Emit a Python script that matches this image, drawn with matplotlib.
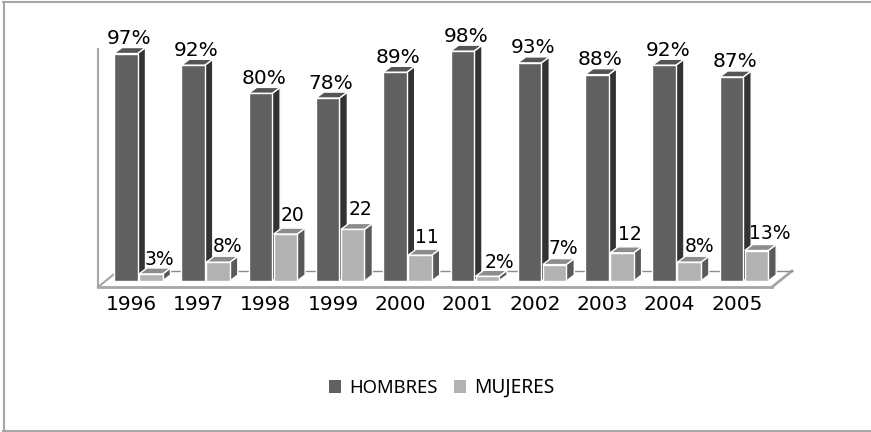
import matplotlib
matplotlib.use("Agg")
import matplotlib.pyplot as plt
from matplotlib.lines import Line2D
from matplotlib.patches import Polygon, Rectangle

years = ["1996", "1997", "1998", "1999", "2000", "2001", "2002", "2003", "2004", "2005"]
hombres = [97, 92, 80, 78, 89, 98, 93, 88, 92, 87]
mujeres = [3, 8, 20, 22, 11, 2, 7, 12, 8, 13]
hombres_labels = ["97%", "92%", "80%", "78%", "89%", "98%", "93%", "88%", "92%", "87%"]
mujeres_labels = ["3%", "8%", "20", "22", "11", "2%", "7%", "12", "8%", "13%"]

W, H = 871, 432
px_x = 67.3  # pixels per category
px_y = 2.345  # pixels per percent
x0, y0 = 114, 281  # pixel of first bar / zero level

# hand nudges for the small labels, in pixels
nudge_x = [0, 0.5, -1.4, -0.7, -2, 2.7, 0, -0.9, 1.8, 4]
nudge_y = [-2, 0, 3, 3.5, 2, -2, 0, 2.5, 0, 1]

fig = plt.figure(figsize=(W / 100, H / 100), dpi=100)
ax = fig.add_axes([0, 0, 1, 1])
ax.set_xlim(-x0 / px_x, (W - x0) / px_x)
ax.set_ylim(-(H - y0) / px_y, y0 / px_y)
ax.axis("off")

bar_w = 23.5 / px_x
gap = 25 / px_x
dx = 8 / px_x
dy = 6 / px_y


def bar3d(x, v, front, top, side):
    # front, side and top face of one bar
    ax.add_patch(Polygon([(x + bar_w, 0), (x + bar_w + dx, dy), (x + bar_w + dx, v + dy), (x + bar_w, v)],
                         fc=side, ec="white", lw=1, zorder=3 + x))
    ax.add_patch(Polygon([(x, v), (x + bar_w, v), (x + bar_w + dx, v + dy), (x + dx, v + dy)],
                         fc=top, ec="white", lw=1, zorder=3 + x))
    ax.add_patch(Rectangle((x, 0), bar_w, v, fc=front, ec="white", lw=1, zorder=3 + x))


# floor and wall
wall = "#a6a6a6"
fl = -6 / px_y
bk = 10 / px_y
ax.plot([-16 / px_x, -16 / px_x], [fl, 99], color=wall, lw=1.5, zorder=1)
ax.plot([-16 / px_x, 658 / px_x], [fl, fl], color=wall, lw=2, zorder=1)
ax.plot([-16 / px_x, 4 / px_x], [fl, bk], color=wall, lw=1.5, zorder=1)
ax.plot([658 / px_x, 678 / px_x], [fl, bk], color=wall, lw=2, zorder=1)
ax.plot([4 / px_x, 678 / px_x], [bk, bk], color="#8c8c8c", lw=1, zorder=1)

for i in range(len(years)):
    bar3d(i, hombres[i], "#606060", "#555555", "#333333")
    bar3d(i + gap, mujeres[i], "#b2b2b2", "#8c8c8c", "#595959")
    ax.text(i + (bar_w + dx) / 2 - 0.5 / px_x, hombres[i] + dy - 0.5 / px_y, hombres_labels[i],
            ha="center", va="bottom", fontsize=14.5, color="black", zorder=30)
    ax.text(i + gap + (bar_w + dx) / 2 + (5 + nudge_x[i]) / px_x, mujeres[i] + dy + (0.5 + nudge_y[i]) / px_y,
            mujeres_labels[i], ha="center", va="bottom", fontsize=13.5, color="black", zorder=30)
    ax.text(i + 17 / px_x, -14 / px_y, years[i], ha="center", va="top", fontsize=14.5, color="black")

# legend
ax.add_patch(Rectangle(((329 - x0) / px_x, (y0 - 393) / px_y), 12 / px_x, 13 / px_y, fc="#606060", ec="none"))
ax.text((349 - x0) / px_x, (y0 - 388) / px_y, "HOMBRES", va="center", ha="left", fontsize=13.3, family="Noto Sans")
ax.add_patch(Rectangle(((454 - x0) / px_x, (y0 - 393) / px_y), 12 / px_x, 13 / px_y, fc="#b2b2b2", ec="none"))
ax.text((474 - x0) / px_x, (y0 - 388) / px_y, "MUJERES", va="center", ha="left", fontsize=13.8, family="Noto Sans")

# outer frame, left, top and bottom only
for xs, ys in [((3.5, 3.5), (2, 431)), ((3, W), (2, 2)), ((3, W), (431, 431))]:
    fig.add_artist(Line2D([x / W for x in xs], [1 - y / H for y in ys], transform=fig.transFigure,
                          color="#a6a6a6", lw=1.5))

fig.savefig("out.png", dpi=100, facecolor="white")
